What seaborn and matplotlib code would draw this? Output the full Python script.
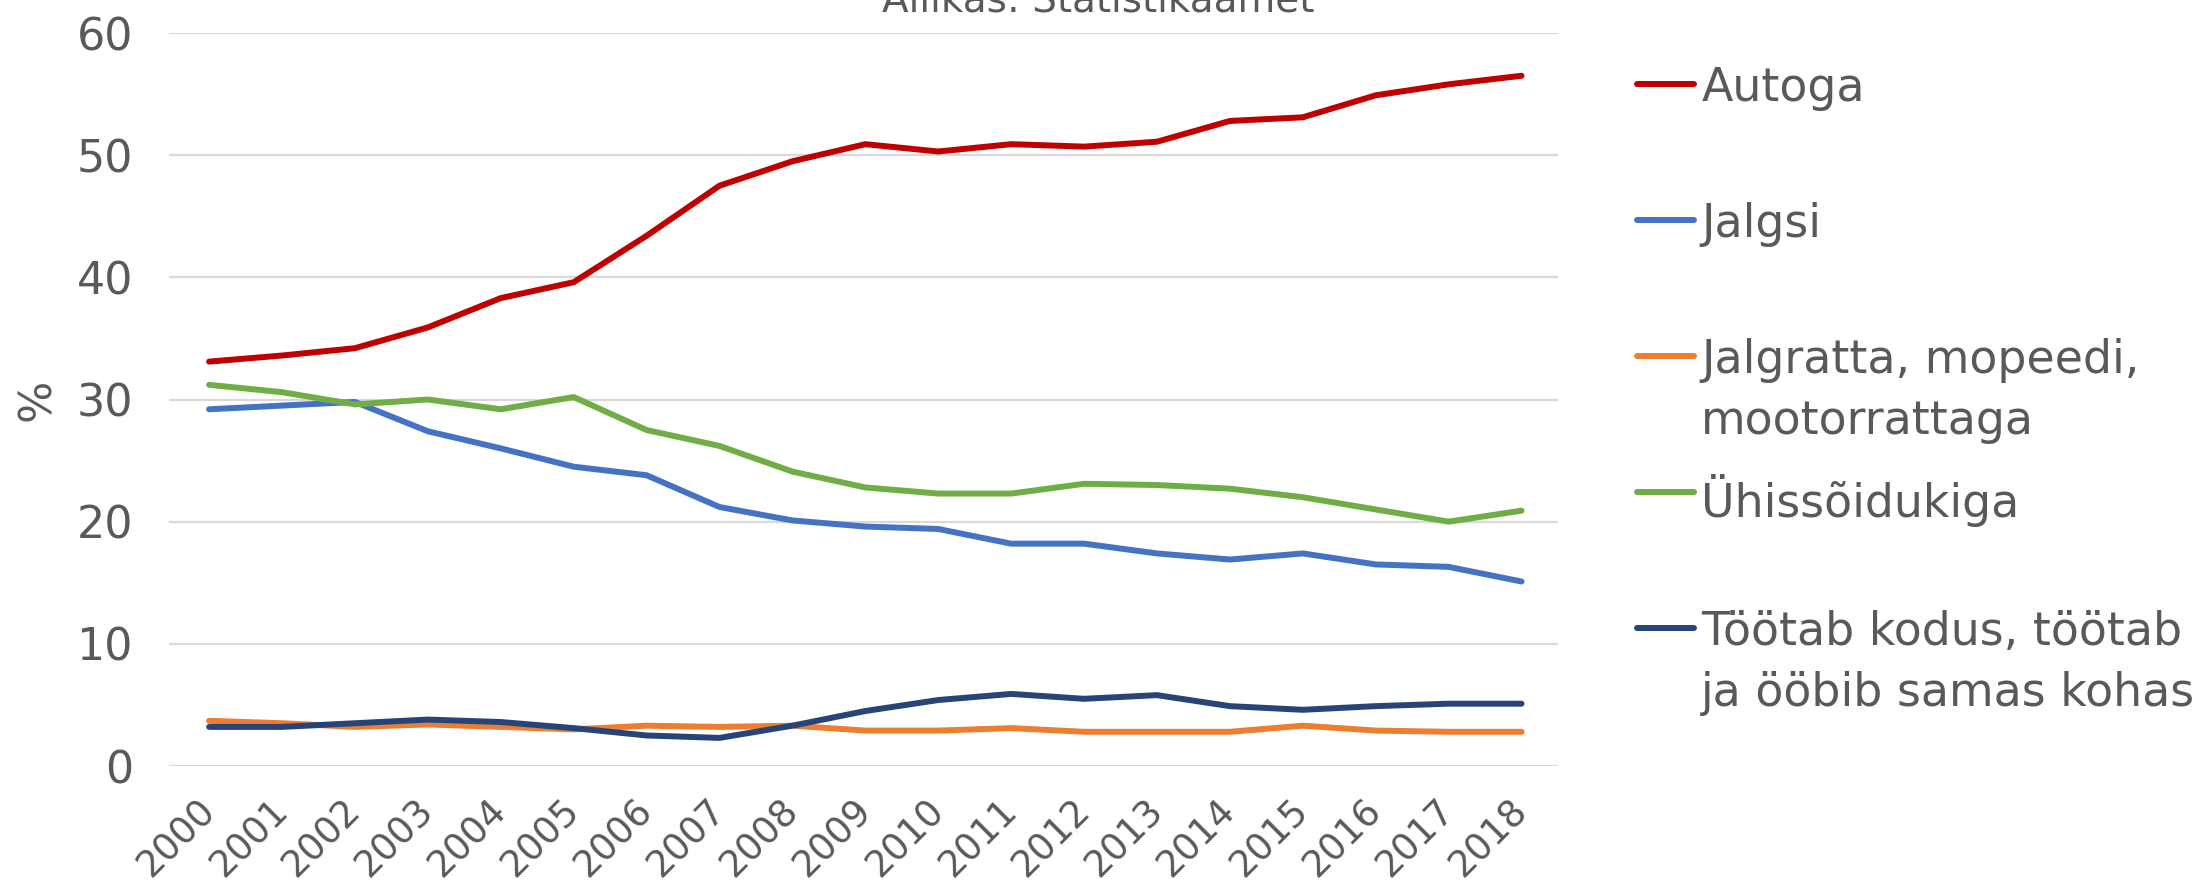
import numpy as np
import pandas as pd
import matplotlib as mpl
import matplotlib.pyplot as plt
import matplotlib.transforms as mtransforms
import seaborn as sns

years = [str(y) for y in range(2000, 2019)]

autoga = [33.1, 33.6, 34.2, 35.9, 38.3, 39.6, 43.4, 47.5, 49.5, 50.9, 50.3, 50.9,
          50.7, 51.1, 52.8, 53.1, 54.9, 55.8, 56.5]
jalgsi = [29.2, 29.5, 29.8, 27.4, 26.0, 24.5, 23.8, 21.2, 20.1, 19.6, 19.4, 18.2,
          18.2, 17.4, 16.9, 17.4, 16.5, 16.3, 15.1]
jalgratta = [3.7, 3.5, 3.2, 3.4, 3.2, 3.0, 3.3, 3.2, 3.3, 2.9, 2.9, 3.1,
             2.8, 2.8, 2.8, 3.3, 2.9, 2.8, 2.8]
yhis = [31.2, 30.6, 29.6, 30.0, 29.2, 30.2, 27.5, 26.2, 24.1, 22.8, 22.3, 22.3,
        23.1, 23.0, 22.7, 22.0, 21.0, 20.0, 20.9]
kodus = [3.2, 3.2, 3.5, 3.8, 3.6, 3.1, 2.5, 2.3, 3.3, 4.5, 5.4, 5.9,
         5.5, 5.8, 4.9, 4.6, 4.9, 5.1, 5.1]

series = ['Autoga', 'Jalgsi', 'Jalgratta, mopeedi,\nmootorrattaga', 'Ühissõidukiga',
          'Töötab kodus, töötab\nja ööbib samas kohas']
values = [autoga, jalgsi, jalgratta, yhis, kodus]
colors = ['#C00000', '#4472C4', '#ED7D31', '#70AD47', '#264478']

df = pd.DataFrame({'aasta': np.tile(np.arange(len(years)), len(series)),
                   'osakaal': np.concatenate(values),
                   'liik': np.repeat(series, len(years))})

sns.set_style('white')
plt.rcParams['font.family'] = ['DejaVu Sans']
grey = '#595959'

W, H = 2210, 888
fig = plt.figure(figsize=(W / 100, H / 100), dpi=100)
ax = fig.add_axes([169 / W, 1 - 766 / H, (1558 - 169) / W, (766 - 33) / H])

sns.lineplot(data=df, x='aasta', y='osakaal', hue='liik', hue_order=series,
             palette=colors, linewidth=4.3, ax=ax, legend=True)

ax.set_xlim(-0.55, 18.5)
ax.set_ylim(0, 60)
ax.set_yticks(np.arange(0, 61, 10))
ax.set_xticks(np.arange(len(years)))
ax.set_xticklabels(years, rotation=45, ha='right', va='top', rotation_mode='anchor')
ax.tick_params(axis='y', labelsize=32, colors=grey, length=0, pad=26)
ax.tick_params(axis='x', labelsize=26.5, colors=grey, length=0, pad=19)
# nudge year labels a bit to the left, like the original
shift = mtransforms.ScaledTranslation(-13 / 100, 0, fig.dpi_scale_trans)
for lab in ax.get_xticklabels():
    lab.set_transform(lab.get_transform() + shift)
ax.grid(axis='y', color='#D9D9D9', linewidth=1.6)
ax.set_axisbelow(True)
for s in ax.spines.values():
    s.set_visible(False)
ax.set_xlabel('')
ax.set_ylabel('%', fontsize=32, color=grey)
ax.yaxis.set_label_coords(-0.079, 0.5)

# legend: one small legend per entry so that entries stay evenly spaced
handles, labels = ax.get_legend_handles_labels()
ax.get_legend().remove()
for i, (h, l) in enumerate(zip(handles, labels)):
    y_px = 84 + i * 136 - 18
    leg = fig.legend([h], [l], loc='upper left', bbox_to_anchor=(1637 / W, 1 - y_px / H),
                     frameon=False, fontsize=33, labelcolor=grey, handlelength=1.25,
                     handletextpad=0.15, handleheight=1.0, borderpad=0, borderaxespad=0)
    for t in leg.get_texts():
        t.set_linespacing(1.45)
    for line in leg.get_lines():
        line.set_linewidth(4.3)
    for col in leg._legend_handle_box.get_children():
        for row in col.get_children():
            row.align = 'top'

fig.text(1098 / W, 1 - 11 / H, 'Allikas: Statistikaamet', ha='center', va='baseline',
         fontsize=28, color=grey)

fig.savefig('out.png', dpi=100)
